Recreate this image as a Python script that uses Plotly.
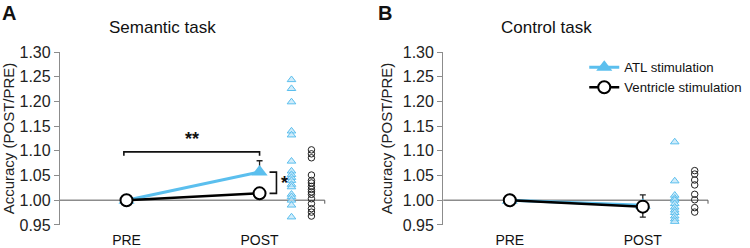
import plotly.graph_objects as go

# ---------------- data ----------------
categories = ["PRE", "POST"]
y_ticks = [0.95, 1.00, 1.05, 1.10, 1.15, 1.20, 1.25, 1.30]

# Semantic task (panel A)
atl_sem_mean = [1.000, 1.057]
atl_sem_err = [0.0, 0.023]
vent_sem_mean = [1.000, 1.014]
vent_sem_err = [0.0, 0.010]
atl_sem_indiv = [1.244, 1.226, 1.199, 1.140, 1.132, 1.079, 1.059, 1.052, 1.046,
                 1.040, 1.032, 1.027, 1.012, 1.007, 1.000, 0.990, 0.966]
vent_sem_indiv = [1.102, 1.094, 1.086, 1.051, 1.040, 1.035, 1.028, 1.022, 1.017,
                  1.012, 1.003, 0.993, 0.983, 0.976, 0.968]

# Control task (panel B)
atl_ctrl_mean = [1.000, 0.990]
atl_ctrl_err = [0.0, 0.021]
vent_ctrl_mean = [1.000, 0.987]
vent_ctrl_err = [0.0, 0.021]
atl_ctrl_indiv = [1.118, 1.039, 1.010, 1.004, 1.000, 0.993, 0.986, 0.980, 0.975,
                  0.968, 0.962, 0.957]
vent_ctrl_indiv = [1.060, 1.053, 1.041, 1.031, 1.012, 1.001, 0.985, 0.976]

# ---------------- style ----------------
BLUE = "#5BBFEE"
FONT = "Liberation Sans, Arial, sans-serif"
xpos = [1, 2]
ATL_INDIV_X = 2.24
VENT_INDIV_X = 2.39

fig = go.Figure()


def add_panel(xa, ya, atl_m, atl_e, vent_m, vent_e, atl_i, vent_i, show_legend):
    fig.add_trace(go.Scatter(
        x=xpos, y=atl_m, mode="lines+markers", name="ATL stimulation",
        line=dict(color=BLUE, width=3),
        marker=dict(symbol="triangle-up", size=14, color=BLUE),
        error_y=dict(type="data", array=atl_e, arrayminus=[0] * len(atl_e),
                     symmetric=False, color="#222", thickness=1.3, width=3),
        xaxis=xa, yaxis=ya, showlegend=show_legend, legendrank=1))
    fig.add_trace(go.Scatter(
        x=xpos, y=vent_m, mode="lines+markers", name="Ventricle stimulation",
        line=dict(color="black", width=2.5),
        marker=dict(symbol="circle", size=12, color="white",
                    line=dict(color="black", width=2)),
        error_y=dict(type="data", array=[0] * len(vent_e), arrayminus=vent_e,
                     symmetric=False, color="#222", thickness=1.3, width=3),
        xaxis=xa, yaxis=ya, showlegend=show_legend, legendrank=2))
    fig.add_trace(go.Scatter(
        x=[ATL_INDIV_X] * len(atl_i), y=atl_i, mode="markers",
        marker=dict(symbol="triangle-up", size=7.5, color="rgba(190,228,248,0.7)",
                    line=dict(color=BLUE, width=1)),
        xaxis=xa, yaxis=ya, showlegend=False))
    fig.add_trace(go.Scatter(
        x=[VENT_INDIV_X] * len(vent_i), y=vent_i, mode="markers",
        marker=dict(symbol="circle-open", size=6.5, color="#222",
                    line=dict(width=1)),
        xaxis=xa, yaxis=ya, showlegend=False))


add_panel("x", "y", atl_sem_mean, atl_sem_err, vent_sem_mean, vent_sem_err,
          atl_sem_indiv, vent_sem_indiv, False)
add_panel("x2", "y2", atl_ctrl_mean, atl_ctrl_err, vent_ctrl_mean, vent_ctrl_err,
          atl_ctrl_indiv, vent_ctrl_indiv, True)

axis_common_x = dict(range=[0.5, 2.49], tickvals=xpos, ticktext=categories,
                     showline=False, showgrid=False, zeroline=False,
                     ticks="outside", ticklen=2, tickcolor="rgba(0,0,0,0)",
                     tickfont=dict(size=14, color="#111", family=FONT),
                     automargin=False, fixedrange=True)
axis_common_y = dict(range=[0.95, 1.30], tickvals=y_ticks,
                     ticktext=[f"{v:.2f}" for v in y_ticks],
                     showline=True, linecolor="#8c8c8c", linewidth=1.3,
                     showgrid=False, zeroline=False,
                     ticks="outside", ticklen=5, tickcolor="#8c8c8c",
                     tickfont=dict(size=16, color="#222", family=FONT),
                     title=dict(text="Accuracy (POST/PRE)",
                                font=dict(size=15, color="#222", family=FONT),
                                standoff=6),
                     automargin=False, fixedrange=True)

fig.update_layout(
    template="none",
    width=750, height=248,
    margin=dict(l=0, r=0, t=0, b=0, autoexpand=False),
    paper_bgcolor="white", plot_bgcolor="white",
    font=dict(family=FONT),
    xaxis=dict(domain=[0.080, 0.433], anchor="y", **axis_common_x),
    yaxis=dict(domain=[0.093, 0.790], anchor="x", **axis_common_y),
    xaxis2=dict(domain=[0.591, 0.944], anchor="y2", **axis_common_x),
    yaxis2=dict(domain=[0.093, 0.790], anchor="x2", **axis_common_y),
    legend=dict(x=0.779, y=0.79, xanchor="left", yanchor="top",
                bgcolor="rgba(0,0,0,0)", font=dict(size=13.2, color="#111"),
                tracegroupgap=0, itemwidth=30, borderwidth=0),
    showlegend=True,
)

for xr, yr in [("x", "y"), ("x2", "y2")]:
    fig.add_shape(type="line", xref=f"{xr} domain", yref=yr, x0=0, x1=1,
                  y0=1.0, y1=1.0, line=dict(color="#8c8c8c", width=1.3), layer="below")
    fig.add_shape(type="line", xref=f"{xr} domain", yref=yr, x0=1, x1=1,
                  y0=1.0, y1=0.993, line=dict(color="#555", width=1), layer="below")

top = max(m + e for m, e in zip(atl_sem_mean, atl_sem_err))
by = top + 0.018
fig.add_shape(type="path", xref="x", yref="y",
              path=f"M 0.98 {by - 0.008} L 0.98 {by} L 2.0 {by} L 2.0 {by - 0.008}",
              line=dict(color="#111", width=1.6))
fig.add_annotation(x=1.49, y=by + 0.001, xref="x", yref="y", text="<b>**</b>",
                   showarrow=False, yanchor="bottom", xanchor="center",
                   font=dict(size=18, color="#111", family=FONT))
y_hi = atl_sem_mean[1]
y_lo = vent_sem_mean[1]
fig.add_shape(type="path", xref="x", yref="y",
              path=f"M 2.075 {y_hi} L 2.127 {y_hi} L 2.127 {y_lo} L 2.075 {y_lo}",
              line=dict(color="#111", width=1.6))
fig.add_annotation(x=2.145, y=(y_hi + y_lo) / 2, xref="x", yref="y", text="<b>*</b>",
                   showarrow=False, xanchor="left",
                   font=dict(size=18, color="#111", family=FONT))

fig.add_annotation(x=162 / 750, y=1 - 27 / 248, xref="paper", yref="paper",
                   text="Semantic task", showarrow=False, xanchor="center",
                   yanchor="middle", font=dict(size=17, color="#111", family=FONT))
fig.add_annotation(x=546 / 750, y=1 - 27 / 248, xref="paper", yref="paper",
                   text="Control task", showarrow=False, xanchor="center",
                   yanchor="middle", font=dict(size=17, color="#111", family=FONT))
fig.add_annotation(x=0.0, y=1.0, xref="paper", yref="paper", text="<b>A</b>",
                   showarrow=False, xanchor="left", yanchor="top",
                   font=dict(size=20, color="#111", family=FONT))
fig.add_annotation(x=376 / 750, y=1.0, xref="paper", yref="paper", text="<b>B</b>",
                   showarrow=False, xanchor="left", yanchor="top",
                   font=dict(size=20, color="#111", family=FONT))

fig.write_html("out.html")
